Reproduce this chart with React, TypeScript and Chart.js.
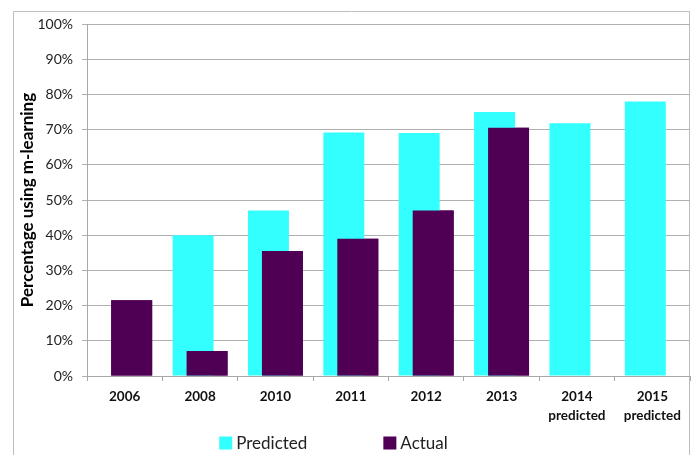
import React, { useEffect, useRef } from "react";
import { Chart, registerables } from "chart.js";

Chart.register(...registerables);

const categories: (string | string[])[] = [
  "2006",
  "2008",
  "2010",
  "2011",
  "2012",
  "2013",
  ["2014", "predicted"],
  ["2015", "predicted"],
];
const predicted: (number | null)[] = [null, 40, 47, 69.2, 69, 75, 71.8, 78];
const actual: (number | null)[] = [21.5, 7.1, 35.5, 39, 47, 70.5, null, null];
const yTicks = [0, 10, 20, 30, 40, 50, 60, 70, 80, 90, 100];
const seriesNames = ["Predicted", "Actual"];
const seriesColors = ["#33ffff", "#4f0055"];

const FONT = "Lato, 'Liberation Sans', sans-serif";

const borderPlugin = {
  id: "outerBorder",
  beforeDraw(chart: any) {
    const { ctx, width, height } = chart;
    ctx.save();
    ctx.fillStyle = "#ffffff";
    ctx.fillRect(0, 0, width, height);
    ctx.strokeStyle = "#bdbdbd";
    ctx.lineWidth = 1;
    ctx.beginPath();
    ctx.moveTo(13.5, height);
    ctx.lineTo(13.5, 11.5);
    ctx.lineTo(689.5, 11.5);
    ctx.lineTo(689.5, height);
    ctx.stroke();
    ctx.restore();
  },
};

// Excel draws the later series in front of the earlier one
const frontPlugin = {
  id: "actualInFront",
  afterDatasetsDraw(chart: any) {
    const meta = chart.getDatasetMeta(1);
    if (meta && meta.controller) meta.controller.draw();
  },
};

const legendPlugin = {
  id: "bottomLegend",
  afterDraw(chart: any) {
    const { ctx } = chart;
    ctx.save();
    ctx.font = "17px " + FONT;
    ctx.textBaseline = "middle";
    const box = 13;
    const gapText = 4;
    const gapItems = 76;
    const widths = seriesNames.map((n) => box + gapText + ctx.measureText(n).width);
    const total = widths.reduce((a, b) => a + b, 0) + gapItems * (widths.length - 1);
    let x = 333.5 - total / 2;
    const cy = 443;
    seriesNames.forEach((name, i) => {
      ctx.fillStyle = seriesColors[i];
      ctx.fillRect(x, cy - box / 2, box, box);
      ctx.fillStyle = "#222";
      ctx.fillText(name, x + box + gapText, cy + 1);
      x += widths[i] + gapItems;
    });
    ctx.restore();
  },
};

export default function App() {
  const ref = useRef<HTMLCanvasElement>(null);
  useEffect(() => {
    if (!ref.current) return;
    const chart = new Chart(ref.current, {
      type: "bar",
      data: {
        labels: categories,
        datasets: [
          {
            label: seriesNames[0],
            data: predicted,
            backgroundColor: seriesColors[0],
            borderWidth: 0,
            categoryPercentage: 0.371,
            barPercentage: 2.93,
          },
          {
            label: seriesNames[1],
            data: actual,
            backgroundColor: seriesColors[1],
            borderWidth: 0,
            categoryPercentage: 0.371,
            barPercentage: 2.93,
          },
        ],
      },
      options: {
        animation: false,
        responsive: false,
        layout: { padding: { top: 24, right: 3, left: 0, bottom: 0 } },
        plugins: {
          legend: { display: false },
          tooltip: { enabled: false },
        },
        scales: {
          x: {
            afterFit: (s: any) => {
              s.height = 79;
            },
            grid: {
              drawOnChartArea: false,
              drawTicks: true,
              tickLength: 5,
              color: "#a8a8a8",
            },
            border: { color: "#a8a8a8" },
            ticks: {
              font: { family: FONT, size: 13.5, weight: "bold", lineHeight: 1.35 },
              color: "#111",
              padding: 7,
              maxRotation: 0,
            },
          },
          y: {
            min: 0,
            max: 100,
            afterFit: (s: any) => {
              s.width = 87;
            },
            afterBuildTicks: (s: any) => {
              s.ticks = yTicks.map((v) => ({ value: v }));
            },
            grid: {
              color: "#b0b0b0",
              tickLength: 5,
            },
            border: { color: "#a8a8a8" },
            ticks: {
              font: { family: FONT, size: 14 },
              color: "#222",
              padding: 9,
              callback: (v: any) => v + "%",
            },
            title: {
              display: true,
              text: "Percentage using m-learning",
              font: { family: FONT, size: 17, weight: "bold" },
              color: "#000",
              padding: { top: 17, bottom: 0 },
            },
          },
        },
      },
      plugins: [borderPlugin, frontPlugin, legendPlugin],
    });
    return () => chart.destroy();
  }, []);
  return (
    <div style={{ position: "absolute", left: 0, top: 0, width: 693, height: 455 }}>
      <canvas ref={ref} width={693} height={455} />
    </div>
  );
}
